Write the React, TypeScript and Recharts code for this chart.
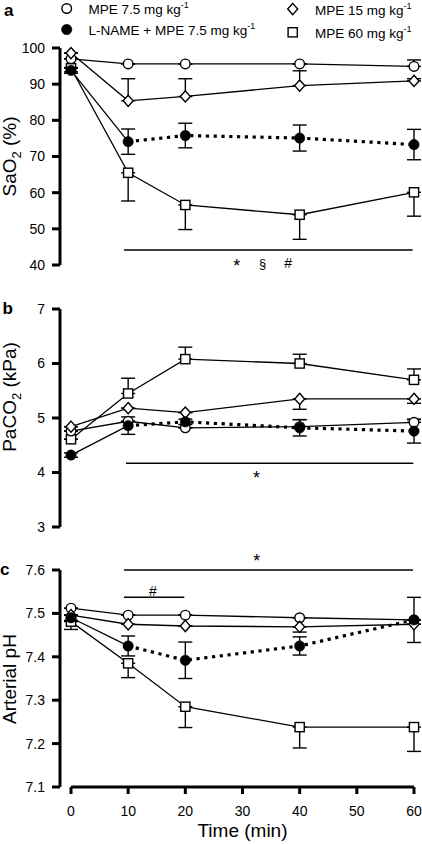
import React from 'react';
import { LineChart, Line, XAxis, YAxis, ErrorBar, ReferenceLine, ReferenceDot, Legend, Label } from 'recharts';

const FONT = '"Liberation Sans", Arial, Helvetica, sans-serif';

// ---------- shared ----------
const times = [0, 10, 20, 40, 60];
const xTicks = [0, 10, 20, 30, 40, 50, 60];
const X_DOMAIN: [number, number] = [-1.924, 60];

const seriesNames = ['MPE 7.5 mg kg', 'L-NAME + MPE 7.5 mg kg', 'MPE 15 mg kg', 'MPE 60 mg kg'];

// ---------- panel a: SaO2 (%) ----------
const saTicks = [40, 50, 60, 70, 80, 90, 100];
const saMpe75 = [97.0, 95.6, 95.6, 95.6, 94.9];
const saMpe75Lo = [0, 0, 0, 0, 0];
const saMpe75Hi = [0, 0, 0, 0, 1.8];
const saLname = [93.8, 74.1, 75.8, 75.1, 73.3];
const saLnameLo = [0.8, 3.5, 3.4, 3.6, 4.2];
const saLnameHi = [0.8, 3.5, 3.4, 3.6, 4.2];
const saMpe15 = [98.6, 85.4, 86.6, 89.6, 90.9];
const saMpe15Lo = [0, 0, 0, 0, 0];
const saMpe15Hi = [0, 6.1, 4.9, 4.1, 0.6];
const saMpe60 = [94.4, 65.5, 56.6, 53.9, 60.1];
const saMpe60Lo = [1.0, 7.8, 6.8, 6.8, 6.6];
const saMpe60Hi = [0, 0, 0, 0, 0];

// ---------- panel b: PaCO2 (kPa) ----------
const pcTicks = [3, 4, 5, 6, 7];
const pcMpe75 = [4.76, 4.94, 4.82, 4.84, 4.92];
const pcMpe75Lo = [0, 0, 0, 0, 0];
const pcMpe75Hi = [0, 0, 0, 0.13, 0.05];
const pcLname = [4.32, 4.86, 4.93, 4.82, 4.76];
const pcLnameLo = [0.04, 0.16, 0.05, 0.15, 0.22];
const pcLnameHi = [0.04, 0.16, 0.05, 0.15, 0.22];
const pcMpe15 = [4.84, 5.18, 5.10, 5.35, 5.35];
const pcMpe15Lo = [0, 0, 0, 0.19, 0.08];
const pcMpe15Hi = [0, 0, 0, 0, 0];
const pcMpe60 = [4.61, 5.45, 6.08, 6.00, 5.70];
const pcMpe60Lo = [0, 0, 0, 0, 0];
const pcMpe60Hi = [0, 0.28, 0.22, 0.17, 0.20];

// ---------- panel c: arterial pH ----------
const phTicks = [7.1, 7.2, 7.3, 7.4, 7.5, 7.6];
const phMpe75 = [7.512, 7.496, 7.496, 7.490, 7.485];
const phMpe75Lo = [0, 0, 0, 0, 0];
const phMpe75Hi = [0, 0, 0, 0, 0];
const phLname = [7.490, 7.425, 7.392, 7.425, 7.485];
const phLnameLo = [0.006, 0.023, 0.042, 0.021, 0.052];
const phLnameHi = [0.006, 0.023, 0.042, 0.021, 0.052];
const phMpe15 = [7.496, 7.475, 7.471, 7.469, 7.475];
const phMpe15Lo = [0, 0, 0, 0.012, 0];
const phMpe15Hi = [0, 0, 0, 0, 0];
const phMpe60 = [7.481, 7.385, 7.285, 7.238, 7.238];
const phMpe60Lo = [0.018, 0.033, 0.048, 0.048, 0.056];
const phMpe60Hi = [0, 0, 0, 0, 0];

function buildRows(
  c: number[], cLo: number[], cHi: number[],
  f: number[], fLo: number[], fHi: number[],
  d: number[], dLo: number[], dHi: number[],
  s: number[], sLo: number[], sHi: number[],
) {
  return times.map((t, i) => ({
    t,
    c: c[i], cE: [cLo[i], cHi[i]],
    f: f[i], fE: [fLo[i], fHi[i]],
    fS: i <= 1 ? f[i] : null,
    fD: i >= 1 ? f[i] : null,
    d: d[i], dE: [dLo[i], dHi[i]],
    s: s[i], sE: [sLo[i], sHi[i]],
  }));
}

const rowsA = buildRows(saMpe75, saMpe75Lo, saMpe75Hi, saLname, saLnameLo, saLnameHi, saMpe15, saMpe15Lo, saMpe15Hi, saMpe60, saMpe60Lo, saMpe60Hi);
const rowsB = buildRows(pcMpe75, pcMpe75Lo, pcMpe75Hi, pcLname, pcLnameLo, pcLnameHi, pcMpe15, pcMpe15Lo, pcMpe15Hi, pcMpe60, pcMpe60Lo, pcMpe60Hi);
const rowsC = buildRows(phMpe75, phMpe75Lo, phMpe75Hi, phLname, phLnameLo, phLnameHi, phMpe15, phMpe15Lo, phMpe15Hi, phMpe60, phMpe60Lo, phMpe60Hi);

// ---------- markers ----------
type Kind = 'c' | 'f' | 'd' | 's';
function Marker({ cx, cy, kind }: { cx?: number; cy?: number; kind: Kind }) {
  if (cx == null || cy == null || isNaN(cx) || isNaN(cy)) return null;
  const sw = 1.4;
  if (kind === 'c') return <circle cx={cx} cy={cy} r={4.8} fill="#fff" stroke="#000" strokeWidth={sw} />;
  if (kind === 'f') return <circle cx={cx} cy={cy} r={5.2} fill="#000" stroke="#000" strokeWidth={0.5} />;
  if (kind === 'd')
    return (
      <polygon
        points={`${cx},${cy - 5.6} ${cx + 5},${cy} ${cx},${cy + 5.6} ${cx - 5},${cy}`}
        fill="#fff" stroke="#000" strokeWidth={sw}
      />
    );
  return <rect x={cx - 4.6} y={cy - 4.6} width={9.2} height={9.2} fill="#fff" stroke="#000" strokeWidth={sw} />;
}
const dotFor = (kind: Kind) => (p: any) => <Marker key={`${kind}-${p.index}`} cx={p.cx} cy={p.cy} kind={kind} />;

// ---------- legend ----------
function LegendBox() {
  const sup = (txt: string) => (
    <>
      {txt}
      <tspan fontSize={9} dy={-6}>-1</tspan>
    </>
  );
  return (
    <svg width={422} height={44} style={{ display: 'block', fontFamily: FONT }}>
      <Marker cx={66.7} cy={8.5} kind="c" />
      <text x={88.5} y={14} fontSize={13.5} fill="#000">{sup(seriesNames[0])}</text>
      <Marker cx={66.7} cy={29.5} kind="f" />
      <text x={88.5} y={34.5} fontSize={13.5} fill="#000">{sup(seriesNames[1])}</text>
      <Marker cx={292.7} cy={9} kind="d" />
      <text x={315} y={14.5} fontSize={13.5} fill="#000">{sup(seriesNames[2])}</text>
      <Marker cx={292.7} cy={32.3} kind="s" />
      <text x={315} y={37.5} fontSize={13.5} fill="#000">{sup(seriesNames[3])}</text>
    </svg>
  );
}

// ---------- axis titles ----------
const yTitle = (main: string, sub: string, rest: string, cy: number) => () => (
  <text x={0} y={0} transform={`translate(15.5, ${cy}) rotate(-90)`} textAnchor="middle" fontSize={19} fontWeight="normal" fill="#000">
    {main}
    {sub ? <tspan fontSize={13} dy={5}>{sub}</tspan> : null}
    <tspan dy={sub ? -5 : 0}>{rest}</tspan>
  </text>
);

// ---------- panel ----------
interface PanelProps {
  rows: any[];
  height: number;
  margin: { top: number; right: number; bottom: number; left: number };
  yDomain: [number, number];
  yTicks: number[];
  fmt?: (v: number) => string;
  title: () => React.ReactElement;
  showX?: boolean;
  legend?: boolean;
  refs?: React.ReactNode;
}

const axisStroke = { stroke: '#000', strokeWidth: 3 };
const order: Kind[] = ['s', 'c', 'd', 'f'];

function Panel({ rows, height, margin, yDomain, yTicks, fmt, title, showX, legend, refs }: PanelProps) {
  return (
    <LineChart width={422} height={height} data={rows} margin={margin}>
      <XAxis
        dataKey="t" type="number" domain={X_DOMAIN} ticks={xTicks} interval={0}
        hide={!showX} axisLine={false} tickLine={axisStroke} tickSize={7} tickMargin={12}
        tick={{ fill: '#000', fontSize: 14 }} height={57}
      />
      <YAxis
        type="number" domain={yDomain} ticks={yTicks} interval={0} width={60}
        axisLine={axisStroke} tickLine={axisStroke} tickSize={8} tickMargin={7}
        tick={{ fill: '#000', fontSize: 14 }} tickFormatter={fmt}
        label={<Label content={title} />}
      />
      {legend ? (
        <Legend
          layout="vertical" align="center" verticalAlign="middle"
          wrapperStyle={{ top: 0, left: 0, width: 422, height: 44 }}
          content={() => <LegendBox />}
        />
      ) : null}
      {showX ? (
        <ReferenceLine
          segment={[{ x: 0, y: yDomain[0] }, { x: 60, y: yDomain[0] }]}
          stroke="#000" strokeWidth={3} ifOverflow="visible"
        />
      ) : null}
      {refs}
      {/* connecting curves */}
      <Line dataKey="s" stroke="#000" strokeWidth={1.3} dot={false} activeDot={false} isAnimationActive={false} />
      <Line dataKey="c" stroke="#000" strokeWidth={1.3} dot={false} activeDot={false} isAnimationActive={false} />
      <Line dataKey="d" stroke="#000" strokeWidth={1.3} dot={false} activeDot={false} isAnimationActive={false} />
      <Line dataKey="fS" stroke="#000" strokeWidth={1.3} dot={false} activeDot={false} isAnimationActive={false} />
      <Line dataKey="fD" stroke="#000" strokeWidth={3.2} strokeDasharray="3.2 4.6" dot={false} activeDot={false} isAnimationActive={false} />
      {/* error bars */}
      {order.map((k) => (
        <Line key={`e-${k}`} dataKey={k} stroke="none" dot={false} activeDot={false} isAnimationActive={false}>
          <ErrorBar dataKey={`${k}E`} width={7} stroke="#000" strokeWidth={1.4} direction="y" isAnimationActive={false} />
        </Line>
      ))}
      {/* markers */}
      {order.map((k) => (
        <Line key={`m-${k}`} dataKey={k} stroke="none" dot={dotFor(k)} activeDot={false} isAnimationActive={false} />
      ))}
    </LineChart>
  );
}

const sigLine = (x1: number, x2: number, y: number) => (
  <ReferenceLine
    segment={[{ x: x1, y }, { x: x2, y }]}
    stroke="#000" strokeWidth={1.5} ifOverflow="visible"
  />
);
const sigText = (x: number, y: number, value: string, fontSize: number) => (
  <ReferenceDot
    x={x} y={y} r={0} fill="none" stroke="none" ifOverflow="visible"
    label={{ value, position: 'center', fontSize, fill: '#000' }}
  />
);

export default function App() {
  return (
    <div style={{ position: 'absolute', left: 0, top: 0, width: 422, height: 844, background: '#fff', fontFamily: FONT }}>
      <div style={{ position: 'absolute', left: 0, top: 0 }}>
        <Panel
          rows={rowsA} height={280} margin={{ top: 48, right: 8, bottom: 15, left: 0 }}
          yDomain={[40, 100]} yTicks={saTicks} title={yTitle('SaO', '2', ' (%)', 156.5)} legend
          refs={
            <>
              {sigLine(9.27, 59.77, 44.15)}
              {sigText(29.0, 39.7, '*', 18)}
              {sigText(33.5, 40.5, '§', 13)}
              {sigText(38.0, 40.5, '#', 14)}
            </>
          }
        />
      </div>
      <div style={{ position: 'absolute', left: 0, top: 280 }}>
        <Panel
          rows={rowsB} height={270} margin={{ top: 29, right: 8, bottom: 23, left: 0 }}
          yDomain={[3, 7]} yTicks={pcTicks} title={yTitle('PaCO', '2', ' (kPa)', 117)}
          refs={
            <>
              {sigLine(9.62, 59.88, 4.169)}
              {sigText(32.45, 3.91, '*', 18)}
            </>
          }
        />
      </div>
      <div style={{ position: 'absolute', left: 0, top: 550 }}>
        <Panel
          rows={rowsC} height={294} margin={{ top: 20, right: 8, bottom: 0, left: 0 }}
          yDomain={[7.1, 7.6]} yTicks={phTicks} fmt={(v: number) => v.toFixed(1)}
          title={yTitle('Arterial pH', '', '', 129)} showX
          refs={
            <>
              {sigLine(9.27, 59.82, 7.6)}
              {sigText(32.5, 7.622, '*', 18)}
              {sigLine(9.27, 19.82, 7.537)}
              {sigText(14.34, 7.552, '#', 14)}
            </>
          }
        />
      </div>
      <svg width={422} height={844} style={{ position: 'absolute', left: 0, top: 0, pointerEvents: 'none', fontFamily: FONT }}>
        <text x={4} y={15.5} fontSize={17} fontWeight="bold" fill="#000">a</text>
        <text x={2.5} y={313.5} fontSize={17} fontWeight="bold" fill="#000">b</text>
        <text x={0} y={575} fontSize={17} fontWeight="bold" fill="#000">c</text>
        <text x={242.5} y={836.5} textAnchor="middle" fontSize={19} fill="#000">Time (min)</text>
      </svg>
    </div>
  );
}
